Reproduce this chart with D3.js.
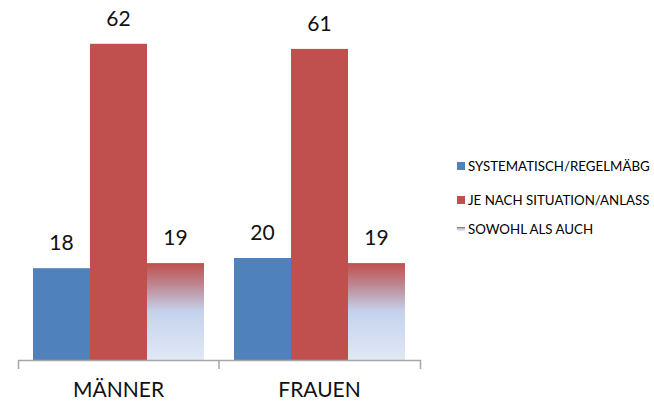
<!DOCTYPE html>
<html>
<head>
<meta charset="utf-8">
<script src="https://cdn.jsdelivr.net/npm/d3@7"></script>
<style>
  body { margin: 0; background: #fff; }
  text { font-family: Lato, "Open Sans", sans-serif; fill: #111; }
</style>
</head>
<body>
<div id="chartholder"></div>
<script>
// data
var categories = ["MÄNNER", "FRAUEN"];
var seriesNames = ["SYSTEMATISCH/REGELMÄBG", "JE NACH SITUATION/ANLASS", "SOWOHL ALS AUCH"];
var systematisch = [18, 20];
var jeNach = [62, 61];
var sowohl = [19, 19];

var seriesValues = [systematisch, jeNach, sowohl];
var colors = ["#4f81bd", "#c0504d", "url(#fade)"];

var svg = d3.select("#chartholder")
  .append("svg")
  .attr("width", 654)
  .attr("height", 403);

// gradient for the third series
var defs = svg.append("defs");
var grad = defs.append("linearGradient")
  .attr("id", "fade")
  .attr("x1", 0).attr("y1", 0).attr("x2", 0).attr("y2", 1);
grad.append("stop").attr("offset", "0%").attr("stop-color", "#c0504d");
grad.append("stop").attr("offset", "22%").attr("stop-color", "#bd8590");
grad.append("stop").attr("offset", "50%").attr("stop-color", "#c4d3ec");
grad.append("stop").attr("offset", "100%").attr("stop-color", "#e1e8f5");

// scales
var x0 = d3.scaleBand().domain(categories).range([18, 420]).paddingInner(0).paddingOuter(0);
var x1 = d3.scaleBand().domain(d3.range(seriesNames.length))
  .range([0, x0.bandwidth()]).paddingInner(0).paddingOuter(0.263);
var y = d3.scaleLinear().domain([0, 70]).range([360, 3]);

// bars
var groups = svg.selectAll(".grp")
  .data(categories)
  .enter().append("g")
  .attr("class", "grp")
  .attr("transform", function(d) { return "translate(" + x0(d) + ",0)"; });

groups.selectAll("rect")
  .data(function(d, i) { return seriesValues.map(function(s, j) { return {s: j, v: s[i]}; }); })
  .enter().append("rect")
  .attr("x", function(d) { return x1(d.s); })
  .attr("y", function(d) { return y(d.v); })
  .attr("width", x1.bandwidth())
  .attr("height", function(d) { return y(0) - y(d.v); })
  .attr("fill", function(d) { return colors[d.s]; });

// value labels
groups.selectAll(".val")
  .data(function(d, i) { return seriesValues.map(function(s, j) { return {s: j, v: s[i]}; }); })
  .enter().append("text")
  .attr("class", "val")
  .attr("x", function(d) { return x1(d.s) + x1.bandwidth() / 2; })
  .attr("y", function(d) { return y(d.v) - 18; })
  .attr("text-anchor", "middle")
  .style("font-size", "21px")
  .text(function(d) { return d.v; });

// x axis
var axis = svg.append("g")
  .attr("transform", "translate(0," + y(0) + ")")
  .call(d3.axisBottom(x0).tickSize(0).tickSizeOuter(9).tickPadding(22));
axis.select(".domain").attr("stroke", "#a6a6a6").attr("stroke-width", 1.5);
axis.selectAll(".tick text")
  .style("font-size", "21px")
  .style("font-family", "Lato, 'Open Sans', sans-serif")
  .attr("fill", "#111");
axis.append("line")
  .attr("x1", x0("FRAUEN")).attr("x2", x0("FRAUEN"))
  .attr("y1", 0).attr("y2", 9)
  .attr("stroke", "#a6a6a6").attr("stroke-width", 1.5);

// legend
var legendY = [166, 200, 229];
var legend = svg.selectAll(".leg")
  .data(seriesNames)
  .enter().append("g")
  .attr("class", "leg")
  .attr("transform", function(d, i) { return "translate(457," + legendY[i] + ")"; });

legend.append("rect")
  .attr("x", 0)
  .attr("y", function(d, i) { return i == 2 ? -2 : -4; })
  .attr("width", 8)
  .attr("height", function(d, i) { return i == 2 ? 4 : 8; })
  .attr("fill", function(d, i) { return colors[i]; });

legend.append("text")
  .attr("x", 11)
  .attr("y", 4.7)
  .style("font-size", "13.3px")
  .style("fill", "#000")
  .text(function(d) { return d; });
</script>
</body>
</html>
